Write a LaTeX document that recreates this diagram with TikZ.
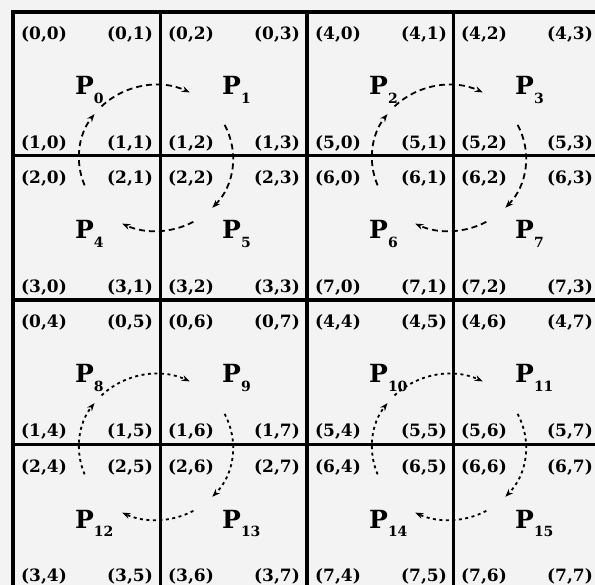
\documentclass[tikz,border=0pt]{standalone}
\usepackage{fontspec}
\setmainfont{DejaVu Serif}
\usetikzlibrary{arrows.meta}
\definecolor{bg}{RGB}{243,243,243}
\tikzset{
  thickline/.style={line width=4.5pt},
  thinline/.style={line width=3pt},
  corner/.style={inner sep=0pt, font=\bfseries\fontsize{17}{17}\selectfont},
  plabel/.style={inner sep=0pt, anchor=base west, font=\bfseries\fontsize{25}{25}\selectfont},
  cyc/.style={line width=1.8pt, -{Stealth[length=8pt,width=6pt]}},
  dashA/.style={dash pattern=on 6pt off 4pt},
  dashB/.style={dash pattern=on 3pt off 3.5pt},
}
\begin{document}
\begin{tikzpicture}[x=1pt,y=-1pt]
\useasboundingbox (0,0) rectangle (595,585);
\clip (0,0) rectangle (595,585);
\fill[bg] (0,0) rectangle (595,585);
% grid lines
\foreach \x in {160,453} \draw[thinline] (\x,12) -- (\x,592);
\foreach \y in {156,445} \draw[thinline] (13,\y) -- (602,\y);
\draw[thickline] (13,12) rectangle (600,589);
\draw[thickline] (307,12) -- (307,589);
\draw[thickline] (13,300) -- (600,300);
% labels
\foreach \R/\T in {0/12,1/156,2/300,3/445}{
  \foreach \C/\L in {0/13,1/160,2/307,3/453}{
    \pgfmathtruncatemacro\BR{\R/2}
    \pgfmathtruncatemacro\BC{\C/2}
    \pgfmathtruncatemacro\ri{mod(\R,2)}
    \pgfmathtruncatemacro\ci{mod(\C,2)}
    \pgfmathtruncatemacro\fa{4*\BC+2*\ri}
    \pgfmathtruncatemacro\fb{\fa+1}
    \pgfmathtruncatemacro\sa{4*\BR+2*\ci}
    \pgfmathtruncatemacro\sb{\sa+1}
    \pgfmathtruncatemacro\pn{4*\R+\C}
    \node[corner,anchor=west] (tl\R\C) at (\L+8,\T+22) {(\fa,\sa)};
    \node[corner,anchor=east] (tr\R\C) at (\L+140,\T+22) {(\fa,\sb)};
    \node[corner,anchor=west] (bl\R\C) at (\L+8,\T+131) {(\fb,\sa)};
    \node[corner,anchor=east] (br\R\C) at (\L+140,\T+131) {(\fb,\sb)};
    \node[plabel] (p\pn) at (\L+62,\T+83) {P\raisebox{-9pt}{\fontsize{14}{14}\selectfont\pn}};
  }
}
% cyclic dashed arrows
\foreach \k/\cx/\cy/\st in {1/156/158/dashA, 2/449/158/dashA, 3/156/447/dashB, 4/449/447/dashB}{
  \coordinate (o\k) at (\cx,\cy);
  \draw[cyc,\st] (o\k) ++(158:77 and 73) arc[start angle=158,end angle=217,x radius=77,y radius=73];
  \draw[cyc,\st] (o\k) ++(225:77 and 73) arc[start angle=225,end angle=296,x radius=77,y radius=73];
  \draw[cyc,\st] (o\k) ++(333:77 and 73) arc[start angle=333,end angle=403,x radius=77,y radius=73];
  \draw[cyc,\st] (o\k) ++(61:77 and 73) arc[start angle=61,end angle=116,x radius=77,y radius=73];
}
\end{tikzpicture}
\end{document}
